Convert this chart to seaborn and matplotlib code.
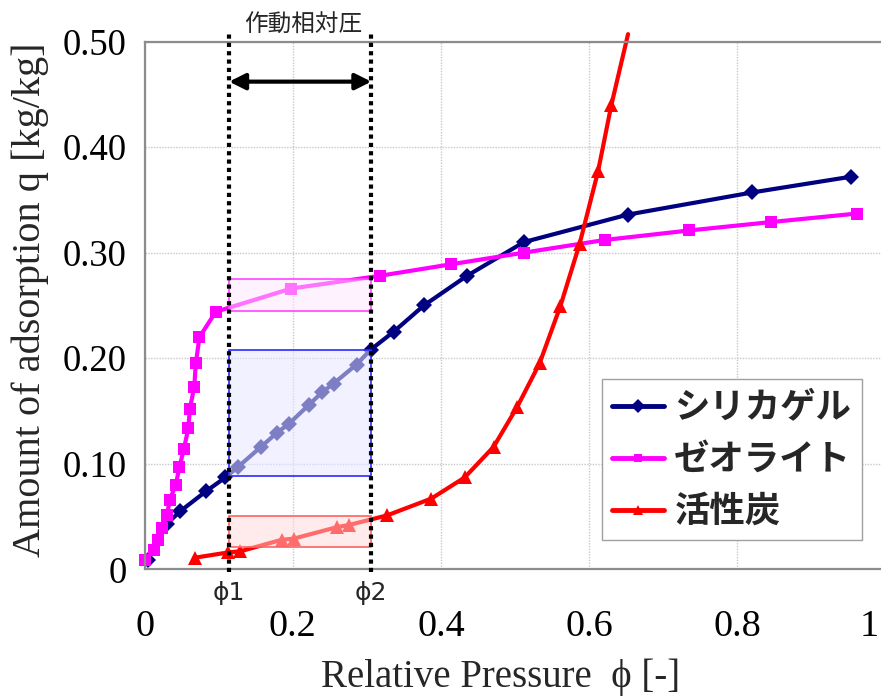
import numpy as np
import pandas as pd
import matplotlib
matplotlib.use("Agg")
import matplotlib.pyplot as plt
import seaborn as sns
from matplotlib.patches import Rectangle
from matplotlib.lines import Line2D
from matplotlib.font_manager import FontProperties
from matplotlib.transforms import ScaledTranslation

# ---- adsorption isotherms: relative pressure phi [-] vs. uptake q [kg/kg] ----
silica_phi = [0.004, 0.030, 0.048, 0.083, 0.109, 0.126, 0.157, 0.178, 0.195, 0.222,
              0.240, 0.255, 0.286, 0.305, 0.336, 0.377, 0.435, 0.512, 0.652, 0.820, 0.954]
silica_q = [0.009, 0.043, 0.055, 0.074, 0.087, 0.097, 0.116, 0.129, 0.138, 0.156,
            0.168, 0.176, 0.194, 0.208, 0.225, 0.250, 0.278, 0.310, 0.336, 0.357, 0.372]

zeolite_phi = [0.0004, 0.012, 0.018, 0.023, 0.030, 0.034, 0.042, 0.047, 0.053, 0.059,
               0.061, 0.067, 0.069, 0.074, 0.096, 0.198, 0.317, 0.414, 0.512, 0.621,
               0.735, 0.846, 0.961]
zeolite_q = [0.009, 0.018, 0.028, 0.039, 0.051, 0.066, 0.080, 0.097, 0.114, 0.134,
             0.152, 0.173, 0.195, 0.220, 0.244, 0.266, 0.278, 0.289, 0.300, 0.312,
             0.321, 0.329, 0.337]

# the last carbon value is where the curve leaves the top of the plot (no marker)
carbon_phi = [0.068, 0.113, 0.129, 0.185, 0.201, 0.260, 0.276, 0.327, 0.387, 0.432,
              0.471, 0.503, 0.533, 0.561, 0.587, 0.612, 0.630, 0.6525]
carbon_q = [0.011, 0.016, 0.017, 0.028, 0.029, 0.040, 0.042, 0.051, 0.067, 0.087,
            0.116, 0.154, 0.195, 0.249, 0.308, 0.377, 0.440, 0.507]

series_names = ["シリカゲル", "ゼオライト", "活性炭"]

# working relative-pressure range and uptake at its two ends
phi_work = [0.114, 0.306]
phi_labels = ["ϕ1", "ϕ2"]
q_at_phi1 = [0.0884, 0.245, 0.0214]
q_at_phi2 = [0.2077, 0.2747, 0.0505]

x_ticks = [0.0, 0.2, 0.4, 0.6, 0.8, 1.0]
x_tick_labels = ["0", "0.2", "0.4", "0.6", "0.8", "1"]
y_ticks = [0.0, 0.1, 0.2, 0.3, 0.4, 0.5]
y_tick_labels = ["0", "0.10", "0.20", "0.30", "0.40", "0.50"]

# ---- styling ----
sns.set_theme(style="white")
plt.rcParams["font.family"] = ["Liberation Serif", "DejaVu Serif"]

colors = ["#000080", "#ff00ff", "#ff0000"]
markers = ["D", "s", "^"]
msizes = [8.5, 8.0, 9.5]
box_fill = [(0.90, 0.90, 1.0, 0.55), (1.0, 0.90, 1.0, 0.5), (1.0, 0.85, 0.85, 0.5)]
box_edge = ["#2a2aff", "#ff44ff", "#ff6060"]

fig = plt.figure(figsize=(8.81, 6.98), dpi=100)
ax = fig.add_axes([0.1642, 0.1844, 0.8409, 0.7561])

frames = []
for name, phi, q in zip(series_names, [silica_phi, zeolite_phi, carbon_phi],
                        [silica_q, zeolite_q, carbon_q]):
    frames.append(pd.DataFrame({"phi": phi, "q": q, "material": name}))
df = pd.concat(frames, ignore_index=True)

for name, color, marker, ms in zip(series_names, colors, markers, msizes):
    sub = df[df["material"] == name]
    sns.lineplot(data=sub, x="phi", y="q", ax=ax, color=color, marker=marker,
                 markersize=ms, markeredgewidth=0, markeredgecolor=color,
                 linewidth=3, sort=False, estimator=None, legend=False, zorder=2)
    line = ax.lines[-1]
    line.set_clip_on(False)
    if name == "活性炭":
        line.set_markevery(list(range(len(sub) - 1)))

# shaded working ranges (drawn over the curves so they appear faded)
for q1, q2, fc, ec in zip(q_at_phi1, q_at_phi2, box_fill, box_edge):
    ax.add_patch(Rectangle((phi_work[0], q1), phi_work[1] - phi_work[0], q2 - q1,
                           facecolor=fc, edgecolor=ec, linewidth=1.2, zorder=3))

# dotted markers of phi1 / phi2
for phi, lab in zip(phi_work, phi_labels):
    ax.plot([phi, phi], [-0.003, 0.508], color="black", linewidth=3,
            linestyle=(0, (1, 1)), clip_on=False, zorder=5)
    ax.text(phi, -0.0227, lab, ha="center", va="center", fontsize=18,
            family=["DejaVu Sans"], clip_on=False)

ax.annotate("", xy=(phi_work[0], 0.462), xytext=(phi_work[1], 0.462),
            arrowprops=dict(arrowstyle="<|-|>", color="black", lw=3,
                            mutation_scale=24, shrinkA=0, shrinkB=0), zorder=6)
fig.text(303.5 / 881, 1 - 25 / 698, "作動相対圧", ha="center", va="center",
         fontsize=17, family=["Noto Sans CJK JP", "DejaVu Sans"])

# axes, ticks, grid
ax.set_xlim(0, 1)
ax.set_ylim(0, 0.5)
ax.set_xticks(x_ticks, x_tick_labels)
ax.set_yticks(y_ticks, y_tick_labels)
ax.tick_params(axis="x", length=0, pad=29, labelsize=27.5, colors="black")
ax.tick_params(axis="y", length=0, pad=13, labelsize=26.5, colors="black")
last = ax.get_xticklabels()[-1]
last.set_transform(last.get_transform() + ScaledTranslation(-16 / 100, 0, fig.dpi_scale_trans))
ax.set_xlabel("")
ax.set_ylabel("")
ax.grid(True, color="#c8c8c8", linewidth=1, linestyle=(0, (1, 1)))
ax.set_axisbelow(True)
for sp in ax.spines.values():
    sp.set_visible(True)
    sp.set_color("#8c8c8c")
    sp.set_linewidth(1.6)

fig.text(501 / 881, 1 - 677 / 698, "Relative Pressure  ϕ [-]", ha="center", va="center",
         fontsize=28)
fig.text(30 / 881, 1 - 300 / 698, "Amount of adsorption q [kg/kg]", ha="center",
         va="center", rotation=90, fontsize=29)

# legend
handles = [Line2D([], [], color=c, lw=3.5, marker=m, markersize=s * 0.8, markeredgewidth=0)
           for c, m, s in zip(colors, markers, msizes)]
leg = ax.legend(handles, series_names, loc="upper left",
                bbox_to_anchor=(601.7 / 881, 1 - 379.3 / 698), bbox_transform=fig.transFigure,
                prop=FontProperties(family="Noto Sans CJK JP", weight="bold", size=25.5),
                frameon=True, fancybox=False, edgecolor="#a0a0a0", framealpha=1,
                borderaxespad=0, handlelength=1.45, handletextpad=0.3,
                labelspacing=0.48, borderpad=0.3)
leg.get_frame().set_linewidth(1)
leg.set_zorder(10)

fig.savefig("out.png", dpi=100)
